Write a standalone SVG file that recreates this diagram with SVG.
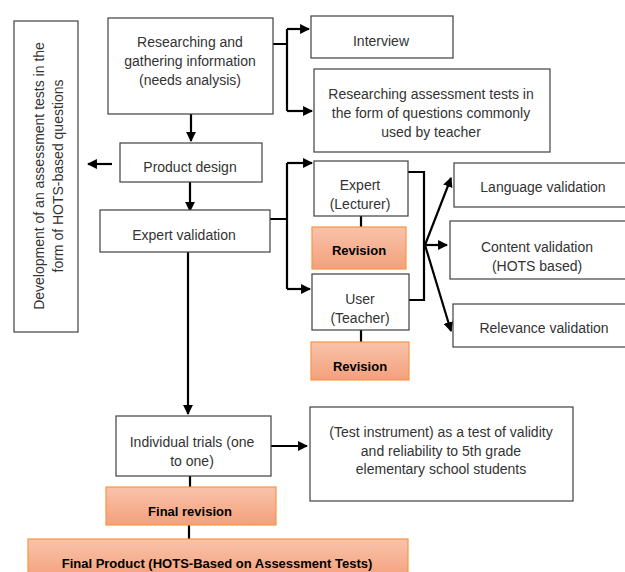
<svg xmlns="http://www.w3.org/2000/svg" width="625" height="572" viewBox="0 0 625 572">
<defs>
<marker id="ah" viewBox="0 0 10 10" refX="9" refY="5" markerWidth="4.5" markerHeight="4.5" orient="auto" markerUnits="strokeWidth">
<path d="M0,0 L10,5 L0,10 z" fill="#000"/>
</marker>
<linearGradient id="og" x1="0" y1="0" x2="0" y2="1">
<stop offset="0" stop-color="#f9c3aa"/>
<stop offset="1" stop-color="#f4a07b"/>
</linearGradient>
<style>
.box{fill:#fff;stroke:#404040;stroke-width:1.2}
.rev{fill:url(#og);stroke:#f79646;stroke-width:1.2}
.t{font-family:"Liberation Sans",Arial,sans-serif;font-size:14px;fill:#333;text-anchor:middle}
.b{font-weight:bold;fill:#000;font-size:13px}
.c{fill:none;stroke:#000;stroke-width:2.2}
.a{marker-end:url(#ah)}
</style>
</defs>
<rect width="625" height="572" fill="#fff"/>

<g id="connectors">
<path class="c a" d="M191,114 V141"/>
<path class="c" d="M273,44 H287 M287,29 V111"/>
<path class="c a" d="M287,29 H309"/>
<path class="c a" d="M287,111 H312"/>
<path class="c a" d="M112,164 H88"/>
<path class="c a" d="M190,182 V211"/>
<path class="c" d="M270,219 H287 M287,163 V289"/>
<path class="c a" d="M287,163 H312"/>
<path class="c a" d="M287,289 H310"/>
<path class="c" d="M361,216 V227"/>
<path class="c" d="M361,330 V342"/>
<path class="c" d="M408,172 H424 V300 H409"/>
<path class="c a" d="M425,245 L451,178"/>
<path class="c a" d="M425,245 H447"/>
<path class="c a" d="M425,245 L451,331"/>
<path class="c a" d="M188,252 V414"/>
<path class="c a" d="M271,446 H307"/>
<path class="c" d="M190,476 V487"/>
<path class="c" d="M189,525 V539"/>
</g>

<g id="dev">
<rect class="box" x="14" y="21" width="64" height="311"/>
<text class="t" transform="translate(44,176) rotate(-90)">Development of an assessment tests in the</text>
<text class="t" transform="translate(63,176) rotate(-90)">form of HOTS-based questions</text>
</g>

<g id="research">
<rect class="box" x="108" y="18" width="165" height="96"/>
<text class="t" x="190" y="47">Researching and</text>
<text class="t" x="190" y="66">gathering information</text>
<text class="t" x="190" y="85">(needs analysis)</text>
</g>

<g id="interview">
<rect class="box" x="311" y="16" width="142" height="42"/>
<text class="t" x="381" y="46">Interview</text>
</g>

<g id="researching-tests">
<rect class="box" x="314" y="69" width="236" height="83"/>
<text class="t" x="431" y="99">Researching assessment tests in</text>
<text class="t" x="431" y="118">the form of questions commonly</text>
<text class="t" x="431" y="137">used by teacher</text>
</g>

<g id="product-design">
<rect class="box" x="120" y="143" width="142" height="39"/>
<text class="t" x="190" y="172">Product design</text>
</g>

<g id="expert-validation">
<rect class="box" x="100" y="210" width="170" height="42"/>
<text class="t" x="184" y="240">Expert validation</text>
</g>

<g id="expert">
<rect class="box" x="314" y="161" width="94" height="55"/>
<text class="t" x="360" y="190">Expert</text>
<text class="t" x="360" y="209">(Lecturer)</text>
</g>

<g id="revision1">
<rect class="rev" x="312" y="227" width="94" height="42"/>
<text class="t b" x="359" y="255">Revision</text>
</g>

<g id="user">
<rect class="box" x="312" y="274" width="97" height="56"/>
<text class="t" x="360" y="304">User</text>
<text class="t" x="360" y="323">(Teacher)</text>
</g>

<g id="revision2">
<rect class="rev" x="311" y="342" width="98" height="38"/>
<text class="t b" x="360" y="371">Revision</text>
</g>

<g id="language">
<rect class="box" x="454" y="163" width="175" height="44"/>
<text class="t" x="543" y="192">Language validation</text>
</g>

<g id="content">
<rect class="box" x="450" y="221" width="179" height="58"/>
<text class="t" x="537" y="252">Content validation</text>
<text class="t" x="537" y="271">(HOTS based)</text>
</g>

<g id="relevance">
<rect class="box" x="453" y="304" width="176" height="43"/>
<text class="t" x="544" y="333">Relevance validation</text>
</g>

<g id="individual">
<rect class="box" x="116" y="416" width="155" height="60"/>
<text class="t" x="192" y="447">Individual trials (one</text>
<text class="t" x="192" y="466">to one)</text>
</g>

<g id="test-instrument">
<rect class="box" x="310" y="407" width="263" height="94"/>
<text class="t" x="441" y="437">(Test instrument) as a test of validity</text>
<text class="t" x="441" y="456">and reliability to 5th grade</text>
<text class="t" x="441" y="474">elementary school students</text>
</g>

<g id="final-revision">
<rect class="rev" x="106" y="487" width="170" height="38"/>
<text class="t b" x="190" y="516">Final revision</text>
</g>

<g id="final-product">
<rect class="rev" x="28" y="539" width="380" height="40"/>
<text class="t b" x="217" y="568">Final Product (HOTS-Based on Assessment Tests)</text>
</g>
</svg>
